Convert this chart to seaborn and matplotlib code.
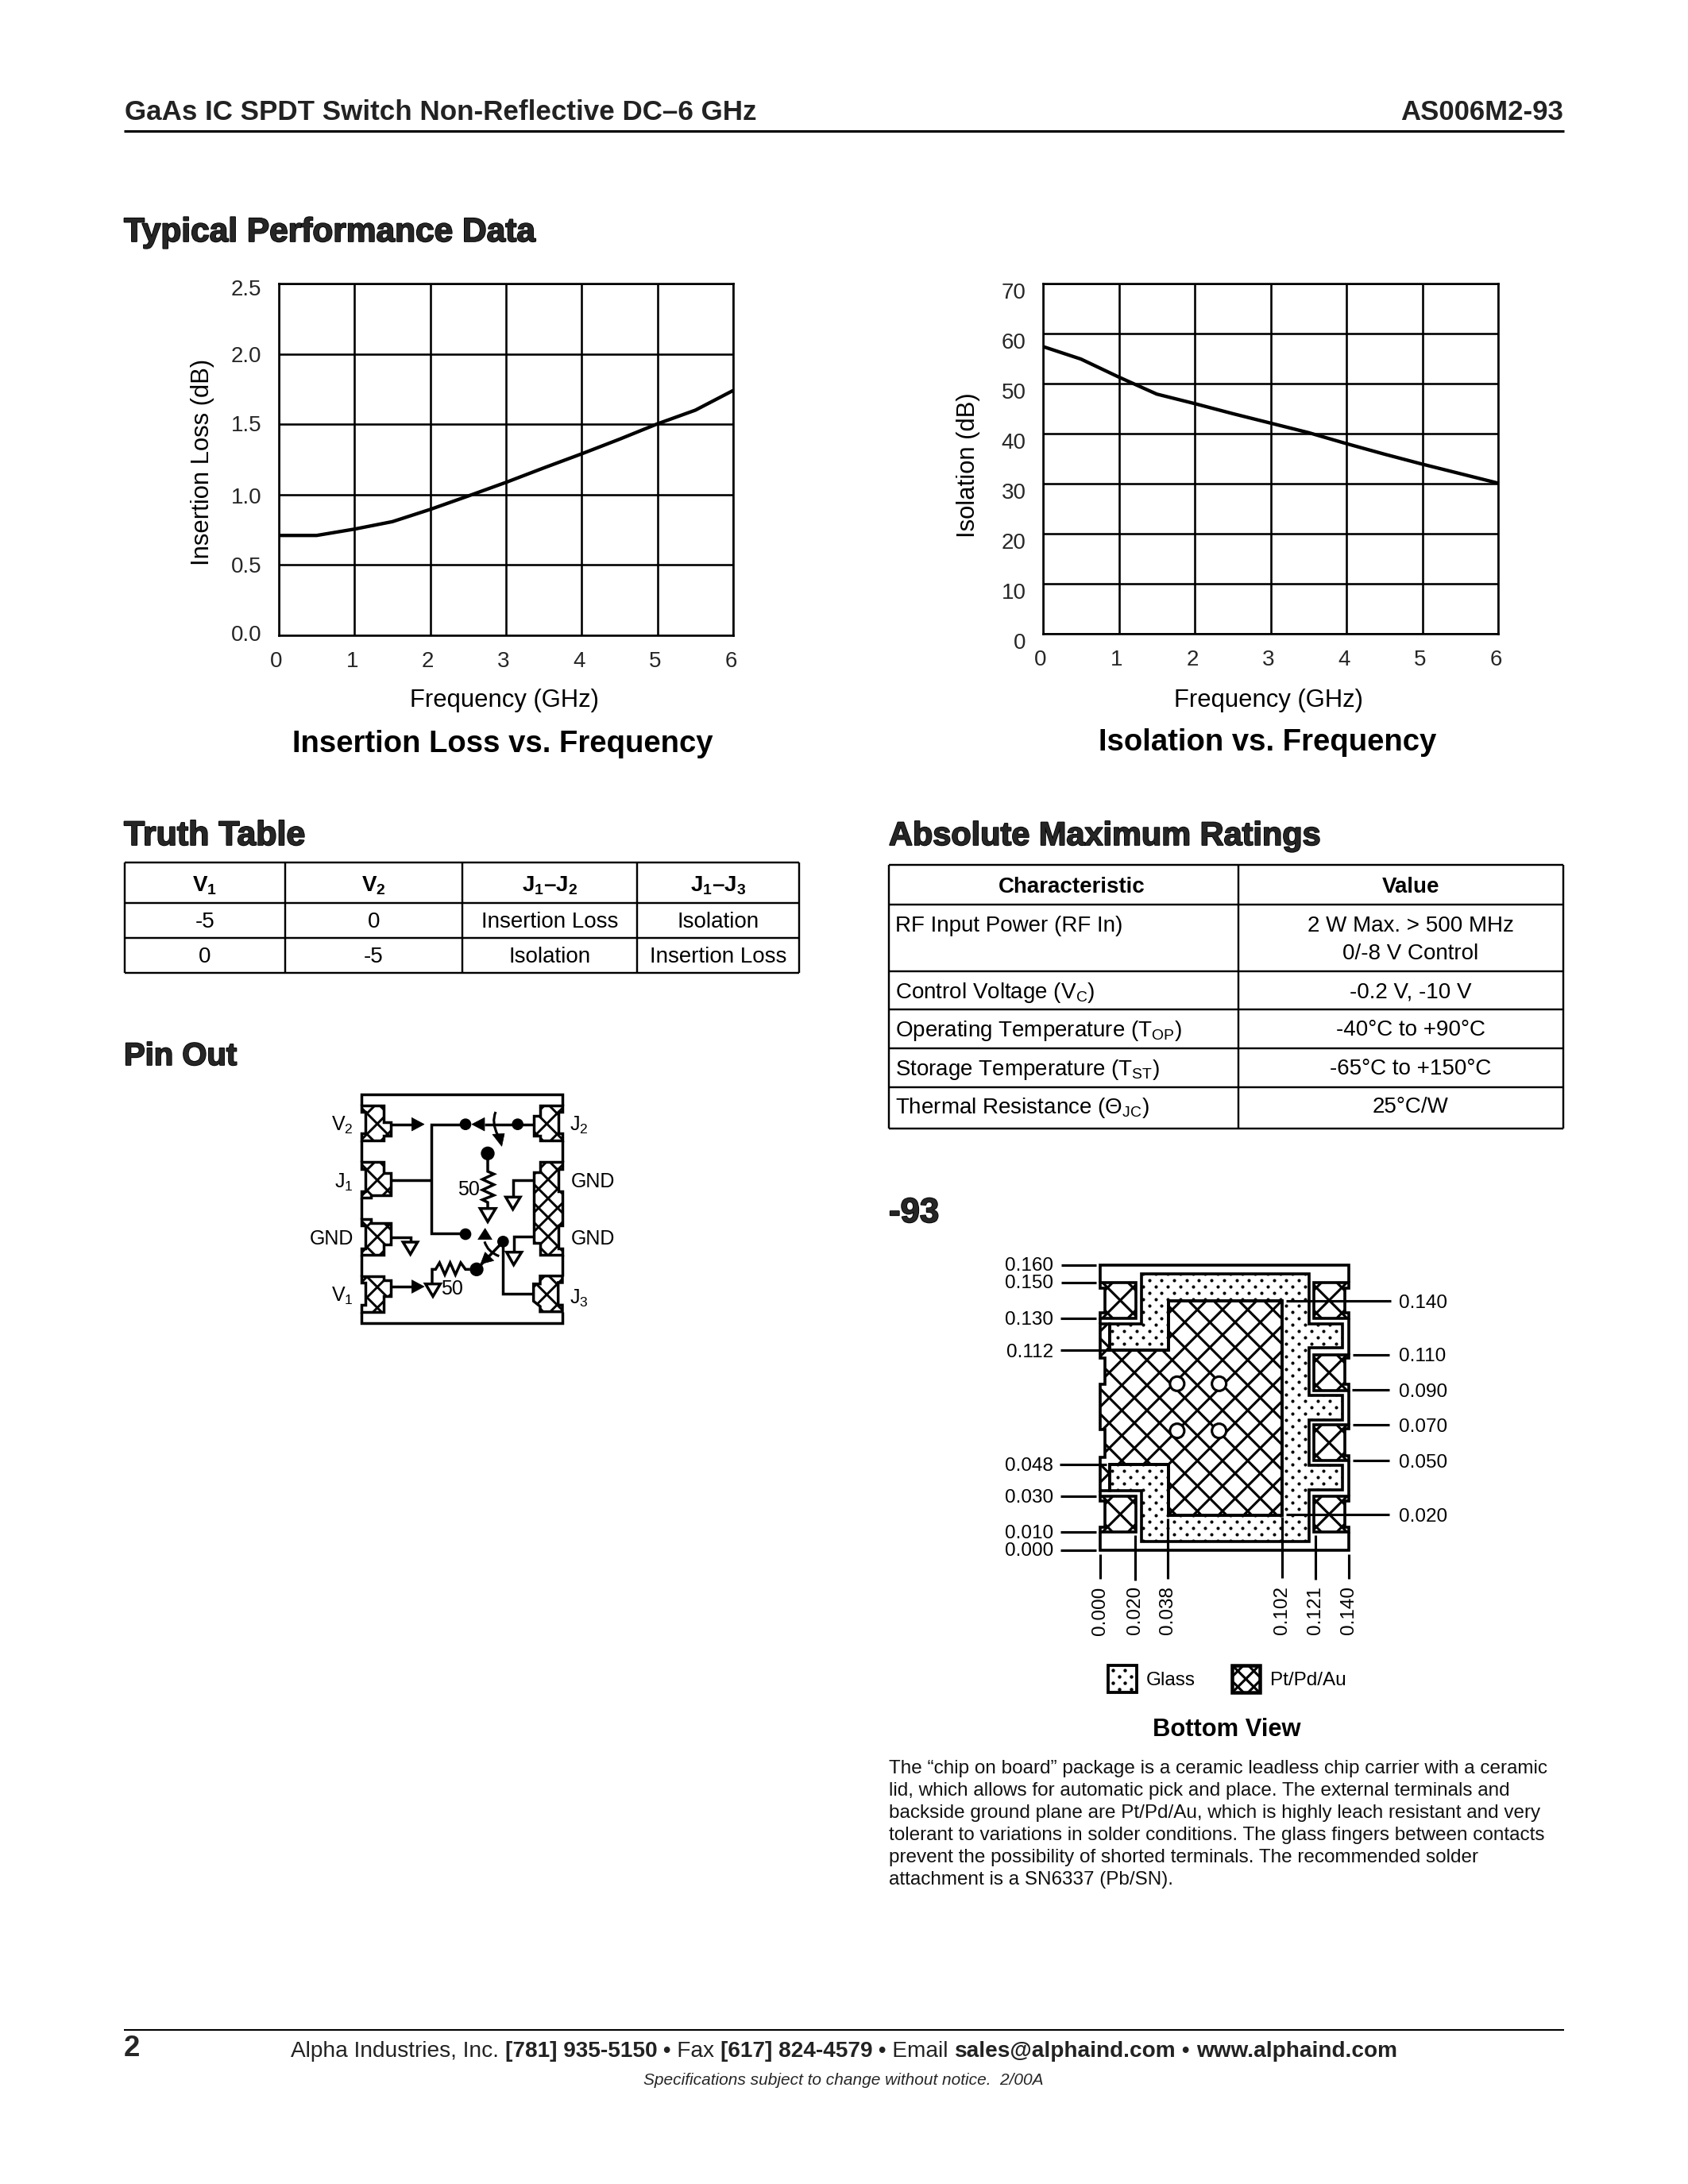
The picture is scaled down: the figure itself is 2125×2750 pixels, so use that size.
import numpy as np
import matplotlib
matplotlib.use("Agg")
import matplotlib.pyplot as plt
import seaborn as sns
from matplotlib.patches import Polygon, Circle, Ellipse, PathPatch
from matplotlib.path import Path
from matplotlib.font_manager import fontManager
import matplotlib.patheffects as pe
from matplotlib.transforms import ScaledTranslation

# ---------- data ----------
freq_ghz = [0, 0.5, 1, 1.5, 2, 2.5, 3, 3.5, 4, 4.5, 5, 5.5, 6]
insertion_loss_db = [0.71, 0.71, 0.755, 0.808, 0.895, 0.99, 1.087, 1.19, 1.29, 1.394, 1.503, 1.60, 1.74]
isolation_db = [57.4, 54.9, 51.3, 47.9, 46.0, 44.0, 42.1, 40.2, 38.0, 35.9, 33.9, 32.0, 30.1]
freq_ticks = [0, 1, 2, 3, 4, 5, 6]
loss_ticks = [0.0, 0.5, 1.0, 1.5, 2.0, 2.5]
iso_ticks = [0, 10, 20, 30, 40, 50, 60, 70]

truth_head = [r"$\mathbf{V_1}$", r"$\mathbf{V_2}$", r"$\mathbf{J_1}$–$\mathbf{J_2}$", r"$\mathbf{J_1}$–$\mathbf{J_3}$"]
truth_rows = [["-5", "0", "Insertion Loss", "Isolation"], ["0", "-5", "Isolation", "Insertion Loss"]]
ratings_head = ["Characteristic", "Value"]
ratings_char = ["RF Input Power (RF In)", r"Control Voltage (V$_{\mathrm{C}}$)", r"Operating Temperature (T$_{\mathrm{OP}}$)",
                r"Storage Temperature (T$_{\mathrm{ST}}$)", r"Thermal Resistance ($\Theta_{\mathrm{JC}}$)"]
ratings_val = ["2 W Max. > 500 MHz\n0/-8 V Control", "-0.2 V, -10 V", "-40°C to +90°C", "-65°C to +150°C", "25°C/W"]
para = ["The “chip on board” package is a ceramic leadless chip carrier with a ceramic",
        "lid, which allows for automatic pick and place. The external terminals and",
        "backside ground plane are Pt/Pd/Au, which is highly leach resistant and very",
        "tolerant to variations in solder conditions. The glass fingers between contacts",
        "prevent the possibility of shorted terminals. The recommended solder",
        "attachment is a SN6337 (Pb/SN)."]
footer_runs = [("Alpha Industries, Inc. ", False), ("[781] 935-5150", True), (" • Fax ", False), ("[617] 824-4579", True),
               (" • Email ", False), ("sales@alphaind.com", True), (" • ", False), ("www.alphaind.com", True)]
dim_left = ["0.160", "0.150", "0.130", "0.112", "0.048", "0.030", "0.010", "0.000"]
dim_right = ["0.140", "0.110", "0.090", "0.070", "0.050", "0.020"]
dim_bottom = ["0.000", "0.020", "0.038", "0.102", "0.121", "0.140"]

# ---------- setup ----------
sns.set_theme(style="white")
names = {f.name for f in fontManager.ttflist}
HEAD = "Liberation Sans Narrow" if "Liberation Sans Narrow" in names else "Liberation Sans"
plt.rcParams["font.family"] = ["Liberation Sans", "DejaVu Sans"]
plt.rcParams["mathtext.fontset"] = "custom"
plt.rcParams["mathtext.rm"] = "Liberation Sans"
plt.rcParams["mathtext.bf"] = "Liberation Sans:bold"
plt.rcParams["mathtext.it"] = "Liberation Sans:italic"
plt.rcParams["mathtext.default"] = "regular"

W, H, DPI = 2125, 2750, 250
fig = plt.figure(figsize=(W / DPI, H / DPI), dpi=DPI, facecolor="white")
bg = fig.add_axes([0, 0, 1, 1], zorder=0)
bg.set_xlim(0, W); bg.set_ylim(H, 0); bg.axis("off")
LW = 0.75


def line(pts, lw=LW, **kw):
    xs, ys = zip(*pts)
    bg.plot(xs, ys, color="black", lw=lw, solid_capstyle="butt", solid_joinstyle="miter", **kw)


def txt(x, y, s, size=8, ha="left", va="center_baseline", **kw):
    return bg.text(x, y, s, fontsize=size, ha=ha, va=va, color="black", **kw)


# ---------- page header / footer ----------
bg.text(157, 151, "GaAs IC SPDT Switch Non-Reflective DC–6 GHz", fontsize=10.08, fontweight="bold", color="#222222")
bg.text(1968, 151, "AS006M2-93", fontsize=10, fontweight="bold", ha="right", color="#222222")
line([(156, 165), (1969, 165)], 0.9)
line([(156, 2556), (1969, 2556)], 0.6)
bg.text(156, 2589, "2", fontsize=10.5, fontweight="bold")

renderer = fig.canvas.get_renderer()
cx = 366
FS = 8.09
for s, b in footer_runs:
    w8 = "bold" if b else "normal"
    bg.text(cx, 2590, s, fontsize=FS, fontweight=w8, color="#222222")
    w = bg.text(0, 0, "|" + s + "|", fontsize=FS, fontweight=w8, alpha=0)
    bar = bg.text(0, 0, "||", fontsize=FS, fontweight=w8, alpha=0)
    cx += w.get_window_extent(renderer).width - bar.get_window_extent(renderer).width
    w.remove(); bar.remove()
bg.text(1062, 2625, "Specifications subject to change without notice.  2/00A", fontsize=6.02, style="italic", ha="center")


# ---------- section headings ----------
def heading(x, base, s, target_w):
    t = bg.text(x, base, s, fontsize=16, family=[HEAD, "Liberation Sans"], fontweight="bold")
    w = t.get_window_extent(renderer).width
    t.set_fontsize(16 * (target_w - 2) / w)
    t.set_path_effects([pe.withStroke(linewidth=0.5, foreground="black")])


heading(156, 304, "Typical Performance Data", 519)
heading(156, 1064, "Truth Table", 230)
heading(1119, 1064, "Absolute Maximum Ratings", 545)
heading(156, 1341, "Pin Out", 144)
heading(1119, 1539, "-93", 65)


# ---------- charts ----------
def chart(box, y, yticks, ylim, ylabel, lab_dy, lx, ly, lab_x, title, tx, ty):
    l, r, t, b = box
    ax = fig.add_axes([l / W, 1 - b / H, (r - l) / W, (b - t) / H], zorder=2)
    sns.lineplot(x=freq_ghz, y=y, ax=ax, color="black", lw=1.25, errorbar=None, zorder=5)
    ax.set_xlim(0, 6); ax.set_ylim(*ylim)
    ax.set_xticks(freq_ticks); ax.set_yticks(yticks)
    ax.set_yticklabels([str(v) for v in yticks], fontsize=8)
    ax.set_xticklabels([str(v) for v in freq_ticks], fontsize=8)
    ax.tick_params(length=0, pad=5)
    ax.tick_params(axis="y", pad=6.2)
    ax.grid(True, color="black", lw=LW)
    ax.set_axisbelow(True)
    for s in ax.spines.values():
        s.set_visible(True); s.set_color("black"); s.set_linewidth(LW)
    # the page's labels sit slightly off the grid: one offset in px per label
    for lab, d in zip(ax.get_yticklabels(), lab_dy):
        lab.set_transform(lab.get_transform() + ScaledTranslation(0, -d / DPI, fig.dpi_scale_trans))
    dx = ScaledTranslation(-3 / DPI, -3 / DPI, fig.dpi_scale_trans)
    for lab in ax.get_xticklabels():
        lab.set_transform(lab.get_transform() + dx)
    ax.set_xlabel(""); ax.set_ylabel("")
    txt(lab_x, 878, "Frequency (GHz)", 8.95, ha="center")
    txt(lx, ly, ylabel, 8.95, ha="center", rotation=90, rotation_mode="anchor")
    txt(tx, ty, title, 11.0, ha="center", fontweight="bold")
    return ax


chart((351, 923, 357, 800), insertion_loss_db, loss_ticks, (0, 2.5), "Insertion Loss (dB)", [-3, 0, 1, -1, 0, 5], 252, 582, 635,
      "Insertion Loss vs. Frequency", 633, 933)
chart((1313, 1886, 357, 798), isolation_db, iso_ticks, (0, 70), "Isolation (dB)", [9] * 8, 1215, 586, 1597,
      "Isolation vs. Frequency", 1596, 931)


# ---------- tables ----------
def grid(xs, ys, lw=0.7):
    for x in xs:
        line([(x, ys[0]), (x, ys[-1])], lw)
    for y in ys:
        line([(xs[0], y), (xs[-1], y)], lw)


tx = [157, 359, 582, 802, 1006]
ty = [1086, 1137, 1181, 1225]
grid(tx, ty)
for i, s in enumerate(truth_head):
    txt((tx[i] + tx[i + 1]) / 2, 1112, s, 8, ha="center", fontweight="bold")
for r, row in enumerate(truth_rows):
    for i, s in enumerate(row):
        txt((tx[i] + tx[i + 1]) / 2, (ty[r + 1] + ty[r + 2]) / 2 - 1, s, 8, ha="center")

rx = [1119, 1559, 1968]
ry = [1089, 1139, 1223, 1271, 1320, 1369, 1421]
grid(rx, ry)
txt(1349, 1114, ratings_head[0], 8, ha="center", fontweight="bold")
txt(1776, 1114, ratings_head[1], 8, ha="center", fontweight="bold")
row_y = [1163, 1246, 1294, 1343, 1391]
for s, y in zip(ratings_char, row_y):
    txt(1127, y, s, 8)
v0, v1 = ratings_val[0].split("\n")
txt(1776, 1163, v0, 8, ha="center")
txt(1776, 1198, v1, 8, ha="center")
for s, y in zip(ratings_val[1:], row_y[1:]):
    txt(1776, y, s, 8, ha="center")


# ---------- drawing helpers ----------
def cross_hatch(poly_px, period, origin, lw):
    patch = Polygon(poly_px, closed=True, fc="white", ec="none", zorder=3)
    bg.add_patch(patch)
    arr = np.array(poly_px)
    y0, y1 = arr[:, 1].min(), arr[:, 1].max()
    span = (arr[:, 0].max() - arr[:, 0].min()) + (y1 - y0) + abs(arr[:, 0].mean() - origin[0]) * 2
    n = int(span / period) + 4
    for k in range(-n, n + 1):
        for sgn in (1, -1):
            c = origin[0] + k * period
            ya, yb = y0 - 5, y1 + 5
            pts_x = [c + sgn * (ya - origin[1]), c + sgn * (yb - origin[1])]
            ln, = bg.plot(pts_x, [ya, yb], color="black", lw=lw, zorder=3.5, solid_capstyle="butt")
            ln.set_clip_path(patch)


def outline(poly_px, lw=1.0, z=4):
    bg.add_patch(Polygon(poly_px, closed=True, fc="none", ec="black", lw=lw, joinstyle="miter", zorder=z))


def dotted(poly_px, ox, oy, px=15.7, py=8.0, s=1.4):
    patch = Polygon(poly_px, closed=True, fc="white", ec="none", zorder=2.5)
    bg.add_patch(patch)
    arr = np.array(poly_px)
    xs, ys = [], []
    nc = int(max(abs(arr[:, 0] - ox)) / px) + 3
    nr = int(max(abs(arr[:, 1] - oy)) / py) + 3
    for r in range(-nr, nr + 1):
        for c in range(-nc, nc + 1):
            xs.append(ox + c * px + (r % 2) * px / 2)
            ys.append(oy + r * py)
    sc = bg.scatter(xs, ys, s=s, c="black", linewidths=0, zorder=2.7)
    sc.set_clip_path(patch)


# ---------- pin-out ----------
def P(zx, zy):
    return (370 + zx / 3.0, 1350 + zy / 3.0)


def Ps(pts):
    return [P(*p) for p in pts]


for seg in [[(256, 125), (256, 85), (1014, 85), (1014, 125)], [(256, 258), (256, 340)], [(256, 475), (256, 555)],
            [(256, 690), (256, 770)], [(256, 905), (256, 948), (1014, 948), (1014, 905)],
            [(1014, 258), (1014, 340)], [(1014, 690), (1014, 770)]]:
    line(Ps(seg), 1.0)

pads = [
    ([(256, 125), (340, 125), (340, 190), (365, 190), (365, 240), (340, 240), (340, 258), (256, 258), (256, 232), (270, 232), (270, 150), (256, 150)], (315, 195), 26),
    ([(256, 340), (340, 340), (340, 380), (365, 380), (365, 465), (290, 465), (290, 475), (256, 475), (256, 450), (270, 450), (270, 365), (256, 365)], (315, 408), 26),
    ([(256, 555), (290, 555), (290, 570), (365, 570), (365, 650), (340, 650), (340, 690), (256, 690), (256, 665), (270, 665), (270, 580), (256, 580)], (315, 622), 26),
    ([(256, 770), (340, 770), (340, 785), (365, 785), (365, 845), (340, 845), (340, 905), (256, 905), (256, 880), (270, 880), (270, 795), (256, 795)], (315, 812), 26),
    ([(1014, 125), (930, 125), (930, 165), (905, 165), (905, 240), (930, 240), (930, 258), (1014, 258), (1014, 232), (998, 232), (998, 150), (1014, 150)], (955, 195), 26),
    ([(1014, 340), (930, 340), (930, 378), (905, 378), (905, 645), (930, 645), (930, 690), (1014, 690), (1014, 665), (998, 665), (998, 578), (1014, 578), (1014, 450), (998, 450), (998, 365), (1014, 365)], (960, 405), 24),
    ([(1014, 770), (930, 770), (930, 800), (905, 800), (905, 865), (930, 885), (930, 905), (1014, 905), (1014, 880), (998, 880), (998, 795), (1014, 795)], (955, 840), 26),
]
for poly, c, per in pads:
    pp = Ps(poly)
    cross_hatch(pp, per, P(*c), 0.85)
    outline(pp, 1.0)

for seg in [[(365, 197), (450, 197)], [(365, 408), (520, 408)], [(650, 197), (520, 197), (520, 610), (650, 610)],
            [(720, 197), (905, 197)], [(732, 330), (732, 375), (755, 385), (712, 405), (755, 425), (712, 445), (755, 465), (712, 482), (732, 492), (732, 515)],
            [(905, 408), (827, 408), (827, 472)], [(905, 620), (830, 620), (830, 680)], [(790, 640), (790, 838), (905, 838)],
            [(790, 640), (690, 745)], [(665, 745), (648, 745), (630, 720), (610, 765), (590, 720), (570, 765), (550, 720), (535, 745), (522, 745), (522, 800)],
            [(365, 810), (450, 810)], [(365, 625), (440, 625), (440, 642)]]:
    line(Ps(seg), 1.0)
for tri in [[(445, 172), (445, 222), (492, 197)], [(672, 197), (720, 172), (720, 222)], [(750, 235), (795, 232), (785, 280)],
            [(695, 632), (748, 632), (722, 590)], [(705, 725), (755, 712), (722, 680)], [(445, 785), (445, 835), (492, 810)]]:
    bg.add_patch(Polygon(Ps(tri), closed=True, fc="black", ec="black", lw=0.2, zorder=5))
for tri in [[(703, 515), (762, 515), (732, 565)], [(800, 472), (855, 472), (827, 518)], [(803, 680), (860, 680), (830, 728)],
            [(497, 800), (553, 800), (525, 847)], [(412, 642), (467, 642), (440, 688)]]:
    bg.add_patch(Polygon(Ps(tri), closed=True, fc="white", ec="black", lw=1.0, joinstyle="miter", zorder=5))
for c, r in [((648, 197), 22), ((845, 197), 22), ((732, 307), 26), ((648, 612), 22), ((790, 640), 22), ((690, 745), 26)]:
    bg.add_patch(Circle(P(*c), r / 3.0, fc="black", ec="none", zorder=5))
for a, b, e in [((762, 150), (745, 190), (770, 238)), ((720, 640), (732, 680), (775, 695))]:
    bg.add_patch(PathPatch(Path(Ps([a, b, e]), [Path.MOVETO, Path.CURVE3, Path.CURVE3]), fc="none", ec="black", lw=0.9, zorder=5))

for z, s, ha in [((225, 190), r"V$_2$", "right"), ((225, 408), r"J$_1$", "right"), ((225, 622), "GND", "right"), ((225, 835), r"V$_1$", "right"),
                 ((1042, 192), r"J$_2$", "left"), ((1045, 405), "GND", "left"), ((1045, 622), "GND", "left"), ((1042, 845), r"J$_3$", "left"),
                 ((660, 437), "50", "center"), ((598, 810), "50", "center")]:
    x, y = P(*z)
    txt(x, y, s, 7.2, ha=ha, zorder=6)


# ---------- package drawing ----------
def K(zx, zy):
    return (1240 + zx / 2.613, 1560 + zy / 3.0)


def Ks(pts):
    return [K(*p) for p in pts]


glass = Ks([(515, 133), (1065, 133), (1065, 320), (1175, 320), (1175, 412), (1065, 412), (1065, 590), (1175, 590), (1175, 683), (1065, 683),
            (1065, 855), (1175, 855), (1175, 947), (1065, 947), (1065, 1143), (515, 1143), (515, 950), (410, 950), (410, 853), (603, 853),
            (603, 1043), (978, 1043), (978, 235), (603, 235), (603, 420), (410, 420), (410, 320), (515, 320)])
gx, gy = K(540, 155)
dotted(glass, gx, gy)
outline(glass, 1.05)

metal = Ks([(603, 235), (978, 235), (978, 1043), (603, 1043), (603, 853), (410, 853), (410, 950), (378, 950), (378, 825), (395, 825), (395, 720), (378, 720),
            (378, 550), (395, 550), (395, 450), (378, 450), (378, 320), (410, 320), (410, 420), (603, 420)])
cross_hatch(metal, 31.7, K(740, 410), 0.9)
outline(metal, 1.05)

for poly, c in [
    ([(378, 165), (497, 165), (497, 300), (378, 300), (378, 280), (395, 280), (395, 185), (378, 185)], (445, 232)),
    ([(378, 972), (497, 972), (497, 1108), (378, 1108), (378, 1090), (395, 1090), (395, 990), (378, 990)], (445, 1040)),
    ([(1082, 165), (1198, 165), (1198, 185), (1183, 185), (1183, 280), (1198, 280), (1198, 300), (1082, 300)], (1132, 232)),
    ([(1082, 437), (1198, 437), (1198, 450), (1183, 450), (1183, 550), (1198, 550), (1198, 572), (1082, 572)], (1132, 505)),
    ([(1082, 703), (1198, 703), (1198, 718), (1183, 718), (1183, 820), (1198, 820), (1198, 838), (1082, 838)], (1132, 770)),
    ([(1082, 972), (1198, 972), (1198, 990), (1183, 990), (1183, 1090), (1198, 1090), (1198, 1108), (1082, 1108)], (1132, 1040)),
]:
    pp = Ks(poly)
    cross_hatch(pp, 32, K(*c), 0.9)
    outline(pp, 1.05)

for seg in [[(378, 165), (378, 100), (1198, 100), (1198, 165)], [(378, 300), (378, 320)], [(378, 950), (378, 972)],
            [(378, 1108), (378, 1177), (1198, 1177), (1198, 1108)], [(1198, 300), (1198, 437)], [(1198, 572), (1198, 703)], [(1198, 838), (1198, 972)]]:
    line(Ks(seg), 1.05, zorder=4)
for c in [(632, 547), (770, 547), (632, 725), (770, 725)]:
    x, y = K(*c)
    bg.add_patch(Ellipse((x, y), 18, 18, fc="white", ec="black", lw=0.9, zorder=5))

# dimension leaders
left_seg = [(250, 365, 100, 93), (250, 365, 165, 160), (248, 365, 300, 297), (248, 600, 420, 420), (245, 400, 853, 851), (248, 365, 972, 970), (248, 365, 1108, 1105), (248, 365, 1177, 1172)]
for (a, b, y, ly), s in zip(left_seg, dim_left):
    line(Ks([(a, y), (b, y)]), 0.9, zorder=4.5)
    x, yy = K(225, ly)
    txt(x, yy, s, 7.0, ha="right")
right_seg = [(990, 1335, 235), (1210, 1330, 437), (1207, 1330, 571), (1210, 1330, 703), (1210, 1330, 838), (990, 1330, 1042)]
for (a, b, y), s in zip(right_seg, dim_right):
    line(Ks([(a, y), (b, y)]), 0.9, zorder=4.5)
    x, yy = K(1362, y)
    txt(x, yy, s, 7.0)
bot_seg = [(378, 1190, 1283), (495, 1120, 1290), (602, 1055, 1283), (978, 1050, 1280), (1087, 1120, 1286), (1198, 1190, 1283)]
for (x0, a, b), s in zip(bot_seg, dim_bottom):
    line(Ks([(x0, a), (x0, b)]), 0.9, zorder=4.5)
    x, yy = K(x0, 1312)
    txt(x, yy, s, 7.0, ha="center", va="top", rotation=90)


# legend
def L(zx, zy):
    return (1240 + zx / 2.613, 1960 + zy / 3.0)


gbox = [L(405, 410), L(500, 410), L(500, 513), L(405, 513)]
gx, gy = L(420, 430)
dotted(gbox, gx, gy, px=15.7, py=8.0, s=1.6)
outline(gbox, 1.1)
mbox = [L(812, 410), L(905, 410), L(905, 513), L(812, 513)]
cross_hatch(mbox, 20, L(858, 462), 0.9)
outline(mbox, 1.3)
x, y = L(530, 460)
txt(x, y, "Glass", 7.0)
x, y = L(937, 462)
txt(x, y, "Pt/Pd/Au", 7.0)
txt(1544, 2175, "Bottom View", 8.9, ha="center", fontweight="bold")

for s, y in zip(para, [2233, 2261, 2289, 2317, 2345, 2373]):
    bg.text(1119, y, s, fontsize=7.0, color="#111111")

fig.savefig("out.png", dpi=DPI, facecolor="white")
